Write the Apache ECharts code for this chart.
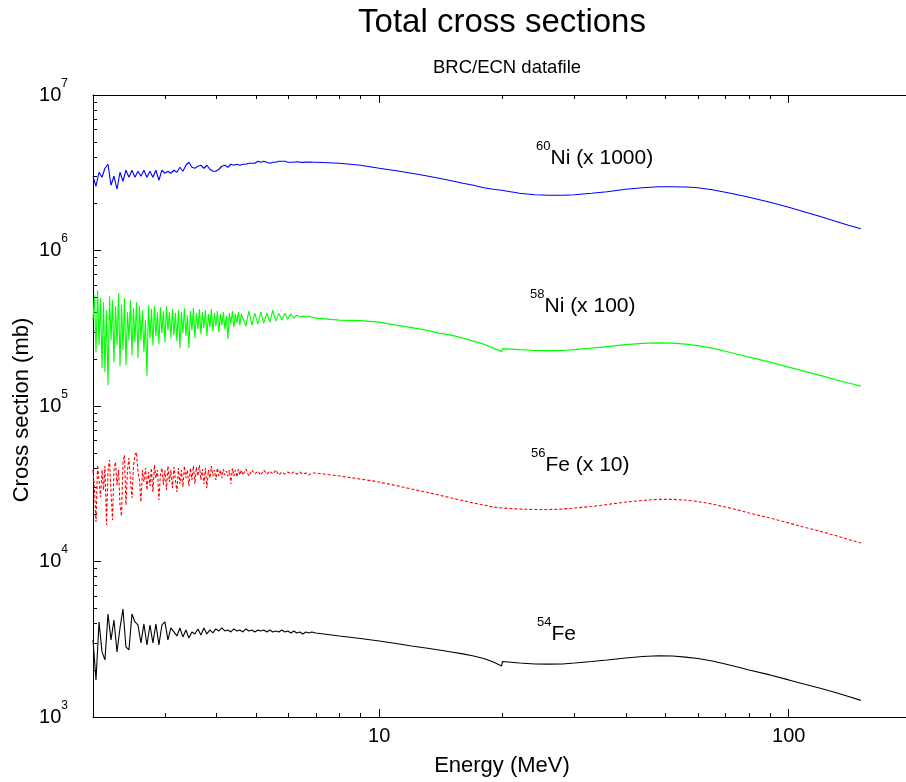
<!DOCTYPE html>
<html><head><meta charset="utf-8">
<script src="https://cdn.jsdelivr.net/npm/echarts@6/dist/echarts.min.js"></script>
<style>html,body{margin:0;padding:0;background:#fff;overflow:hidden}#c{width:906px;height:782px}</style>
</head><body><div id="c"></div>
<script>
// ---------- data (energies in MeV, total cross sections in mb) ----------
const lowEnergies = [
2.000,2.034,2.069,2.104,2.139,2.176,2.213,2.250,2.289,2.328,
2.367,2.407,2.448,2.490,2.532,2.575,2.619,2.663,2.709,2.755,
2.801,2.849,2.897,2.947,2.997,3.048,3.099,3.152,3.206,3.260,
3.316,3.372,3.429,3.488,3.547,3.607,3.669,3.731,3.794,3.859,
3.924,3.991,4.059,4.128,4.198,4.270,4.342,4.416,4.491,4.567,
4.645,4.724,4.804,4.886,4.969,5.053,5.139,5.226,5.315,5.406,
5.497,5.591,5.686,5.783,5.881,5.981,6.083,6.186,6.291,6.398,
6.507,6.618,6.730,6.844];
// extra resonance-region energies (between consecutive lowEnergies) for the denser 56Fe / 58Ni data
const midEnergies = [
2.017,2.052,2.087,2.122,2.158,2.195,2.232,2.270,2.309,2.348,
2.387,2.428,2.469,2.511,2.554,2.597,2.641,2.686,2.732,2.778,
2.825,2.873,2.922,2.972,3.023,3.074,3.126,3.179,3.233,3.288,
3.344,3.401,3.459,3.518,3.577,3.638,3.700,3.763,3.827,3.892,
3.958,4.025,4.094,4.163,4.234,4.306,4.379,4.454,4.529,4.606];
const highEnergies = [7,8,9,10,11,12,13,14,15,16,17,18,19,19.9,20,22,24,26,28,30,33,36,40,44,48,52,56,60,65,70,75,80,90,100,110,120,130,140,150];

const ni60Low = [
3003,2590,3186,2959,3380,3586,2629,3003,2477,3186,
2789,3282,2959,3282,2959,3234,3003,3282,2959,3234,
2959,3282,2830,3282,3139,3234,3139,3282,3186,3431,
3234,3534,3694,3431,3380,3482,3534,3380,3534,3331,
3234,3234,3331,3482,3534,3431,3586,3534,3586,3534,
3586,3586,3640,3640,3640,3749,3694,3749,3694,3640,
3694,3694,3749,3749,3749,3694,3694,3694,3720,3700,
3690,3700,3710,3700];
const ni60High = [
3694,3640,3534,3380,3258,3139,3025,2915,2810,2707,
2629,2533,2477,2441,2387,2335,2284,2267,2267,2284,
2335,2387,2477,2533,2571,2571,2560,2533,2459,2370,
2284,2201,2044,1898,1763,1649,1543,1454,1380];

const ni58Low = [
3565,2221,2462,1753,1651,1362,2652,1915,2462,1805,
2287,1832,2652,2124,2575,2032,2652,2221,1557,2732,
2462,2813,2499,2942,2575,3075,2732,2856,2614,2356,
2942,2813,2356,3075,2732,3120,2898,3167,2813,3215,
3030,3263,2985,3311,3120,2691,3360,3215,3411,3311,
4013,3263,4073,3311,3955,3360,4013,3411,3955,3461,
4133,3513,3955,3565,3955,3619,3896,3672,3839,3727,
3783,3727,3783,3727];
const ni58Mid = [
5161,5558,4938,4653,4133,5086,4794,4386,5316,4452,
4938,4013,4794,4258,4653,4386,4133,3565,4452,4195,
4386,4013,4321,4073,4386,4013,4195,3955,4133,4013,
4258,3839,4073,4258,3955,4195,4013,4133,3896,4195,
3955,4073,3896,4013,3783,3955,4073,3896,4013,3896];
const ni58High = [
3672,3565,3539,3461,3311,3192,3075,2941,2856,2732,
2613,2499,2356,2237,2339,2304,2277,2270,2277,2304,
2356,2408,2481,2526,2545,2537,2499,2445,2356,2250,
2153,2062,1915,1779,1664,1568,1478,1404,1342];

const fe56Low = [
3874,1794,3341,3874,4109,3874,2797,3874,3102,2308,
4360,2308,4626,2560,4836,3760,2412,3244,2882,3057,
2797,3441,2484,3990,3874,4109,3874,4049,2797,3148,
3012,3441,3057,3341,3148,3545,3341,3148,2968,3441,
3545,3341,3545,3441,3597,3545,3148,3545,3492,3597,
3597,3931,3544,3873,3651,3817,3597,3873,3651,3817,
3651,3873,3597,3760,3651,3760,3651,3760,3651,3760,
3651,3705,3597,3705];
const fe56Mid = [
2882,4170,2598,2882,1716,4491,1849,4360,3874,1961,
4836,3874,3341,4109,5056,3341,3874,3990,3760,3990,
4170,3874,3597,3102,2882,3244,2968,3341,3990,3874,
4109,3874,3990,4109,4049,4170,3931,3990,3874,4109,
3874,3990,3874,3931,3816,3874,3990,3874,3931,3874];
const fe56High = [
3705,3544,3390,3244,3080,2924,2797,2676,2560,2466,
2377,2308,2240,2208,2198,2175,2159,2159,2175,2208,
2257,2324,2412,2473,2510,2510,2484,2430,2342,2240,
2150,2050,1904,1768,1654,1559,1469,1385,1315];

const fe54Low = [
3130,1732,4085,2621,2328,4598,3130,4208,2621,3738,
4952,2821,2699,4598,4085,3907,2994,3966,2906,3907,
2994,3966,2906,3907,4085,3130,3738,3524,3321,3738,
3273,3629,3224,3524,3421,3683,3370,3738,3421,3629,
3472,3683,3575,3738,3575,3629,3524,3683,3575,3629,
3524,3683,3575,3629,3524,3629,3575,3629,3524,3629,
3524,3575,3524,3629,3524,3575,3472,3575,3472,3524,
3421,3524,3472,3524];
const fe54High = [
3472,3321,3200,3084,2972,2864,2781,2699,2621,2545,
2470,2380,2260,2131,2277,2227,2194,2188,2194,2227,
2277,2328,2398,2450,2477,2470,2427,2380,2294,2194,
2099,2008,1865,1732,1618,1525,1439,1356,1279];

const seriesNames = ['54Fe','56Fe','58Ni','60Ni'];
const scaleFactors = [1, 10, 100, 1000];
const curveLabels = [['54','Fe'],['56','Fe (x 10)'],['58','Ni (x 100)'],['60','Ni (x 1000)']];

const xMajorTicks = [10, 100];
const xMinorTicks = [3,4,5,6,7,8,9,20,30,40,50,60,70,80,90];
const yExponents = [3,4,5,6,7];
const yMinorMultipliers = [2,3,4,5,6,7,8,9];

// ---------- build ----------
const FONT = '"Liberation Sans", Arial, Helvetica, sans-serif';
function buildPoints(low, mid, high, f) {
  const pts = [];
  for (let k = 0; k < lowEnergies.length; k++) {
    pts.push([lowEnergies[k], low[k] * f]);
    if (mid && k < midEnergies.length) pts.push([midEnergies[k], mid[k] * f]);
  }
  highEnergies.forEach((e, i) => pts.push([e, high[i] * f]));
  return pts;
}
const yMajorTicks = yExponents.map(e => Math.pow(10, e));
const yMinorTicks = [];
yExponents.slice(0, -1).forEach(e => yMinorMultipliers.forEach(m => yMinorTicks.push(m * Math.pow(10, e))));

function xAx(pos, ticks, len, line, label) {
  return {
    type: 'log', logBase: 10, min: 2, max: 200, position: pos, gridIndex: 0,
    axisLine: {show: line, onZero: false, lineStyle: {color: '#000', width: 1}},
    axisTick: {show: true, inside: true, length: len, customValues: ticks, lineStyle: {color: '#000', width: 1}},
    axisLabel: label ? {show: true, customValues: ticks, fontSize: 20, margin: 9, color: '#000', fontFamily: FONT} : {show: false},
    splitLine: {show: false}, minorTick: {show: false}, minorSplitLine: {show: false}
  };
}
function yAx(pos, ticks, len, line, label) {
  return {
    type: 'log', logBase: 10, min: 1000, max: 1e7, position: pos, gridIndex: 0,
    axisLine: {show: line, onZero: false, lineStyle: {color: '#000', width: 1}},
    axisTick: {show: true, inside: true, length: len, customValues: ticks, lineStyle: {color: '#000', width: 1}},
    axisLabel: label ? {
      show: true, customValues: ticks, margin: 25, color: '#000',
      formatter: v => '{b|10}{s|' + Math.round(Math.log10(v)) + '}',
      rich: {
        b: {fontSize: 20, fontFamily: FONT, color: '#000'},
        s: {fontSize: 12, fontFamily: FONT, color: '#000', padding: [0, 0, 23, 0]}
      }
    } : {show: false},
    splitLine: {show: false}, minorTick: {show: false}, minorSplitLine: {show: false}
  };
}

const lows = [fe54Low, fe56Low, ni58Low, ni60Low];
const mids = [null, fe56Mid, ni58Mid, null];
const highs = [fe54High, fe56High, ni58High, ni60High];
const colors = ['#000000', '#ff0000', '#00ff00', '#0000ff'];
const types = ['solid', [3, 2], 'solid', 'solid'];
const series = seriesNames.map((n, i) => ({
  name: n, type: 'line', xAxisIndex: 0, yAxisIndex: 0,
  data: buildPoints(lows[i], mids[i], highs[i], scaleFactors[i]),
  showSymbol: false, symbol: 'none', smooth: false,
  lineStyle: {color: colors[i], width: 1.1, type: types[i]},
  itemStyle: {color: colors[i]}, z: 3
}));

const labelPos = [[537, 634], [531, 465], [530, 306], [536, 158]];
const graphics = [
  {type: 'text', x: 502, y: 23, style: {text: 'Total cross sections', font: '33px ' + FONT, fill: '#000', align: 'center', verticalAlign: 'middle'}},
  {type: 'text', x: 507, y: 68, style: {text: 'BRC/ECN datafile', font: '18.5px ' + FONT, fill: '#000', align: 'center', verticalAlign: 'middle'}},
  {type: 'text', x: 502, y: 766, style: {text: 'Energy (MeV)', font: '22px ' + FONT, fill: '#000', align: 'center', verticalAlign: 'middle'}},
  {type: 'text', x: 22, y: 410, rotation: Math.PI / 2, style: {text: 'Cross section (mb)', font: '22px ' + FONT, fill: '#000', align: 'center', verticalAlign: 'middle'}},
  // the plot frame continues past the right edge of the window: keep that edge open
  {type: 'rect', z: 100, shape: {x: 903, y: 97, width: 6, height: 618}, style: {fill: '#fff'}}
];
curveLabels.forEach((l, i) => {
  graphics.push({
    type: 'text', x: labelPos[i][0], y: labelPos[i][1],
    style: {
      text: '{s|' + l[0] + '}{b|' + l[1] + '}', align: 'left', verticalAlign: 'middle',
      rich: {
        b: {fontSize: 21, fontFamily: FONT, fill: '#000', color: '#000'},
        s: {fontSize: 13, fontFamily: FONT, fill: '#000', color: '#000', padding: [0, 0, 24, 0]}
      }
    }
  });
});

const chart = echarts.init(document.getElementById('c'), null, {renderer: 'canvas'});
chart.setOption({
  animation: false,
  backgroundColor: '#fff',
  grid: {left: 93, top: 95, width: 819, height: 622, containLabel: false, outerBoundsMode: 'none'},
  xAxis: [
    xAx('bottom', xMajorTicks, 8, true, true),
    xAx('bottom', xMinorTicks, 4, false, false),
    xAx('top', xMajorTicks, 8, true, false),
    xAx('top', xMinorTicks, 4, false, false)
  ],
  yAxis: [
    yAx('left', yMajorTicks, 8, true, true),
    yAx('left', yMinorTicks, 4, false, false)
  ],
  series: series,
  graphic: graphics
});
</script>
</body></html>
